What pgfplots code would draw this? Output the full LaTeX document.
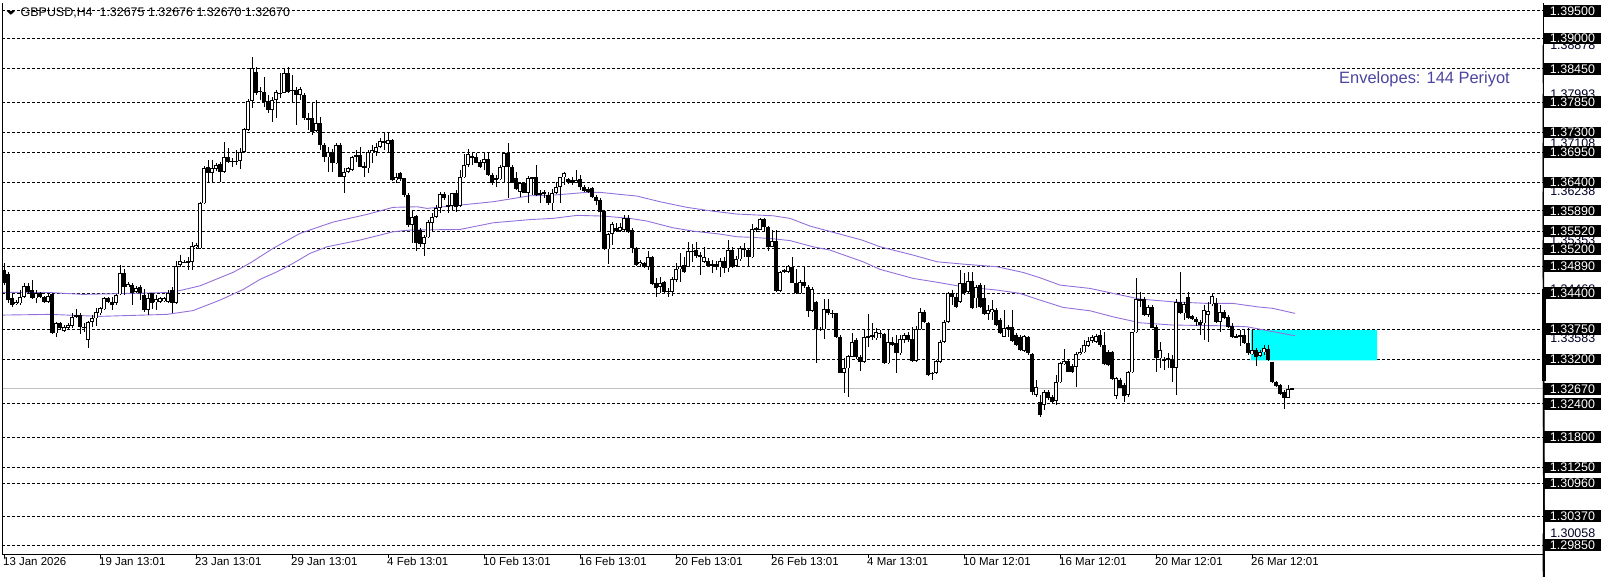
\documentclass[border=0pt]{standalone}
\usepackage{pgfplots}
\pgfplotsset{compat=1.18}
\usepackage{pgfplotstable}
\usepackage{fontspec}
\setmainfont{Liberation Sans}
\definecolor{envcol}{HTML}{9370DB}
\definecolor{envtext}{HTML}{4B449E}
\definecolor{curgray}{HTML}{C0C0C0}
\definecolor{aqua}{HTML}{00FFFF}

\pgfplotstableread{
i o h l c
0 1.34817 1.34937 1.34546 1.34576
1 1.34744 1.34787 1.34215 1.34275
2 1.34305 1.34395 1.34155 1.34185
3 1.34203 1.34275 1.34179 1.34245
4 1.34215 1.34455 1.34185 1.34335
5 1.34335 1.34588 1.34305 1.34528
6 1.34528 1.34576 1.34395 1.34425
7 1.34455 1.34636 1.34287 1.34305
8 1.34305 1.34455 1.34227 1.34407
9 1.34407 1.34425 1.34305 1.34323
10 1.34323 1.34347 1.34227 1.34245
11 1.34245 1.34407 1.34215 1.34353
12 1.34383 1.34407 1.33661 1.33673
13 1.33673 1.33884 1.33601 1.33854
14 1.33854 1.33884 1.33733 1.33763
15 1.33721 1.33824 1.33703 1.33794
16 1.33776 1.33854 1.33757 1.33824
17 1.33805 1.34034 1.33763 1.33974
18 1.34004 1.34106 1.33944 1.33974
19 1.34004 1.34034 1.33661 1.33794
20 1.33776 1.33854 1.33703 1.33794
21 1.33553 1.33902 1.33402 1.33884
22 1.33884 1.34004 1.33794 1.33944
23 1.33944 1.34125 1.33805 1.34064
24 1.34034 1.34155 1.34004 1.34125
25 1.34106 1.34323 1.34094 1.34305
26 1.34305 1.34323 1.34227 1.34245
27 1.34245 1.34335 1.34094 1.34185
28 1.34215 1.34383 1.34185 1.34365
29 1.34377 1.34907 1.34359 1.34757
30 1.34757 1.34829 1.34365 1.34516
31 1.34516 1.34606 1.34504 1.34558
32 1.34546 1.34576 1.34185 1.34407
33 1.34425 1.34528 1.34395 1.34498
34 1.34516 1.34546 1.34275 1.34395
35 1.34365 1.34467 1.34064 1.34094
36 1.34094 1.34395 1.34004 1.34305
37 1.34395 1.34407 1.34106 1.34227
38 1.34245 1.34365 1.34094 1.34287
39 1.34245 1.34335 1.34215 1.34305
40 1.34263 1.34335 1.34245 1.34305
41 1.34245 1.34455 1.34215 1.34395
42 1.34455 1.34516 1.34034 1.34215
43 1.34215 1.34985 1.34203 1.34889
44 1.34907 1.35088 1.34877 1.34985
45 1.34949 1.34997 1.34937 1.34967
46 1.34979 1.35058 1.34817 1.34955
47 1.34967 1.35329 1.34817 1.35250
48 1.35226 1.35310 1.35190 1.35268
49 1.35208 1.36050 1.35190 1.36021
50 1.36021 1.36700 1.36009 1.36660
51 1.36671 1.36803 1.36412 1.36575
52 1.36575 1.36803 1.36400 1.36653
53 1.36641 1.36755 1.36611 1.36713
54 1.36731 1.36773 1.36412 1.36593
55 1.36593 1.37135 1.36575 1.36851
56 1.36851 1.37014 1.36743 1.36773
57 1.36785 1.36833 1.36683 1.36773
58 1.36779 1.36984 1.36713 1.36791
59 1.36785 1.37014 1.36635 1.36954
60 1.36954 1.37375 1.36936 1.37357
61 1.37345 1.37899 1.37333 1.37875
62 1.37875 1.38658 1.37737 1.38459
63 1.38399 1.38477 1.37977 1.38019
64 1.38056 1.38128 1.37887 1.38038
65 1.38038 1.38308 1.37767 1.37857
66 1.37875 1.37979 1.37646 1.37706
67 1.37706 1.37947 1.37496 1.37887
68 1.37887 1.38068 1.37556 1.38038
69 1.38007 1.38369 1.37917 1.38019
70 1.38019 1.38459 1.38007 1.38369
71 1.38369 1.38477 1.38007 1.38038
72 1.38068 1.38339 1.37827 1.38056
73 1.38068 1.38128 1.37436 1.37977
74 1.37977 1.38128 1.37887 1.38080
75 1.37977 1.38007 1.37526 1.37556
76 1.37556 1.37646 1.37345 1.37544
77 1.37556 1.37827 1.37255 1.37315
78 1.37327 1.37887 1.37315 1.37466
79 1.37478 1.37586 1.36984 1.37074
80 1.37074 1.37104 1.36773 1.36852
81 1.36852 1.37044 1.36593 1.36954
82 1.36954 1.36996 1.36593 1.36743
83 1.36743 1.37116 1.36731 1.37074
84 1.37074 1.37104 1.36490 1.36502
85 1.36502 1.36653 1.36213 1.36593
86 1.36593 1.36683 1.36563 1.36653
87 1.36623 1.36876 1.36611 1.36852
88 1.36864 1.36984 1.36773 1.36894
89 1.36894 1.37044 1.36671 1.36683
90 1.36695 1.36773 1.36490 1.36653
91 1.36653 1.36984 1.36563 1.36954
92 1.36924 1.37074 1.36743 1.36984
93 1.36954 1.37116 1.36876 1.37044
94 1.37044 1.37195 1.37014 1.37147
95 1.37153 1.37315 1.36984 1.37116
96 1.37092 1.37315 1.36936 1.37165
97 1.37165 1.37177 1.36430 1.36442
98 1.36442 1.36575 1.36390 1.36490
99 1.36563 1.36593 1.36430 1.36454
100 1.36472 1.36484 1.36141 1.36171
101 1.36171 1.36201 1.35600 1.35630
102 1.35630 1.35900 1.35298 1.35780
103 1.35798 1.35810 1.35166 1.35298
104 1.35539 1.35569 1.35226 1.35286
105 1.35286 1.35449 1.35070 1.35407
106 1.35407 1.35720 1.35389 1.35690
107 1.35672 1.35840 1.35509 1.35780
108 1.35780 1.35991 1.35750 1.35931
109 1.35931 1.36232 1.35852 1.36189
110 1.36189 1.36232 1.36081 1.36111
111 1.35991 1.36171 1.35852 1.35961
112 1.35973 1.36213 1.35900 1.36201
113 1.36201 1.36262 1.35870 1.35961
114 1.35973 1.36623 1.35961 1.36502
115 1.36490 1.36912 1.36472 1.36713
116 1.36713 1.36996 1.36683 1.36912
117 1.36852 1.36954 1.36713 1.36876
118 1.36852 1.36936 1.36743 1.36755
119 1.36773 1.36803 1.36653 1.36683
120 1.36755 1.36954 1.36623 1.36815
121 1.36815 1.36954 1.36514 1.36533
122 1.36533 1.36563 1.36352 1.36390
123 1.36472 1.36533 1.36310 1.36454
124 1.36454 1.36713 1.36442 1.36683
125 1.36683 1.36954 1.36412 1.36924
126 1.36924 1.37104 1.36111 1.36683
127 1.36683 1.36713 1.36382 1.36394
128 1.36473 1.36593 1.36262 1.36274
129 1.36232 1.36412 1.36141 1.36394
130 1.36394 1.36412 1.36201 1.36213
131 1.36213 1.36514 1.36033 1.36472
132 1.36490 1.36502 1.36171 1.36466
133 1.36502 1.36713 1.36153 1.36171
134 1.36201 1.36261 1.36033 1.36189
135 1.36201 1.36261 1.36111 1.36231
136 1.36171 1.36231 1.35991 1.36021
137 1.36021 1.36273 1.35900 1.36213
138 1.36213 1.36412 1.36189 1.36310
139 1.36310 1.36502 1.36033 1.36490
140 1.36490 1.36593 1.36352 1.36562
141 1.36466 1.36472 1.36370 1.36412
142 1.36442 1.36502 1.36352 1.36382
143 1.36394 1.36623 1.36382 1.36442
144 1.36454 1.36532 1.36261 1.36322
145 1.36322 1.36352 1.36231 1.36250
146 1.36273 1.36322 1.36201 1.36231
147 1.36292 1.36322 1.36111 1.36141
148 1.36141 1.36171 1.35991 1.36069
149 1.36081 1.36111 1.35509 1.35870
150 1.35888 1.35900 1.35178 1.35190
151 1.35190 1.35479 1.34925 1.35467
152 1.35467 1.35690 1.35268 1.35647
153 1.35569 1.35660 1.35509 1.35527
154 1.35527 1.35660 1.35509 1.35587
155 1.35539 1.35810 1.35509 1.35750
156 1.35750 1.35810 1.35479 1.35509
157 1.35539 1.35569 1.35118 1.35208
158 1.35208 1.35238 1.34889 1.34907
159 1.34925 1.34997 1.34877 1.34967
160 1.34949 1.34967 1.34847 1.34865
161 1.34865 1.35166 1.34817 1.35045
162 1.35045 1.35069 1.34546 1.34564
163 1.34576 1.34666 1.34335 1.34486
164 1.34504 1.34696 1.34395 1.34588
165 1.34606 1.34624 1.34395 1.34425
166 1.34443 1.34486 1.34335 1.34419
167 1.34425 1.34684 1.34347 1.34648
168 1.34636 1.34949 1.34606 1.34829
169 1.34829 1.35130 1.34606 1.34889
170 1.34907 1.35058 1.34757 1.34787
171 1.34877 1.35328 1.34865 1.35166
172 1.35166 1.35286 1.34967 1.35142
173 1.35178 1.35328 1.35027 1.35069
174 1.35088 1.35148 1.34726 1.35045
175 1.34967 1.35238 1.34949 1.35045
176 1.34985 1.35027 1.34865 1.34889
177 1.34925 1.34997 1.34757 1.34889
178 1.34925 1.34985 1.34817 1.34865
179 1.34865 1.35027 1.34696 1.34985
180 1.34985 1.35045 1.34757 1.34847
181 1.34847 1.35358 1.34787 1.35178
182 1.35178 1.35238 1.34847 1.34865
183 1.34889 1.35069 1.34877 1.35009
184 1.35009 1.35250 1.34985 1.35208
185 1.35178 1.35298 1.35058 1.35208
186 1.35178 1.35208 1.34877 1.35045
187 1.35045 1.35647 1.35027 1.35550
188 1.35569 1.35599 1.35509 1.35550
189 1.35550 1.35750 1.35539 1.35732
190 1.35732 1.35750 1.35509 1.35587
191 1.35587 1.35611 1.35166 1.35238
192 1.35238 1.35539 1.35226 1.35346
193 1.35346 1.35539 1.34425 1.34443
194 1.34443 1.34805 1.34425 1.34787
195 1.34787 1.34829 1.34757 1.34817
196 1.34787 1.34907 1.34757 1.34889
197 1.34876 1.35057 1.34575 1.34587
198 1.34587 1.34846 1.34383 1.34395
199 1.34395 1.34636 1.34383 1.34606
200 1.34606 1.34888 1.34500 1.34520
201 1.34520 1.34545 1.33973 1.34082
202 1.34082 1.34515 1.34064 1.34467
203 1.34244 1.34262 1.33131 1.33745
204 1.33745 1.33793 1.33721 1.33757
205 1.33745 1.34286 1.33576 1.34106
206 1.34106 1.34286 1.34004 1.34034
207 1.34046 1.34094 1.33943 1.34034
208 1.34034 1.34046 1.33582 1.33600
209 1.33612 1.33642 1.32950 1.32962
210 1.32962 1.33221 1.32589 1.33040
211 1.33040 1.33281 1.32517 1.33263
212 1.33251 1.33684 1.33239 1.33522
213 1.33552 1.33582 1.33203 1.33239
214 1.33239 1.33281 1.32998 1.33161
215 1.33161 1.33745 1.33143 1.33612
216 1.33600 1.34022 1.33432 1.33624
217 1.33612 1.33853 1.33552 1.33642
218 1.33582 1.33763 1.33552 1.33703
219 1.33660 1.33733 1.33582 1.33684
220 1.33660 1.33672 1.33119 1.33131
221 1.33131 1.33733 1.33119 1.33522
222 1.33522 1.33600 1.33444 1.33462
223 1.33504 1.33642 1.32950 1.33311
224 1.33311 1.33642 1.33281 1.33564
225 1.33552 1.33684 1.33492 1.33642
226 1.33642 1.33703 1.33522 1.33552
227 1.33564 1.33781 1.33161 1.33179
228 1.33179 1.33805 1.33161 1.33745
229 1.33745 1.34124 1.33733 1.34064
230 1.34064 1.34094 1.33853 1.33883
231 1.33853 1.33883 1.32902 1.32920
232 1.32962 1.32980 1.32830 1.32950
233 1.32962 1.33191 1.32938 1.33179
234 1.33161 1.33552 1.33143 1.33522
235 1.33522 1.33913 1.33492 1.33883
236 1.33883 1.34425 1.33865 1.34395
237 1.34395 1.34455 1.34184 1.34335
238 1.34335 1.34395 1.34124 1.34154
239 1.34244 1.34816 1.34214 1.34575
240 1.34575 1.34756 1.34365 1.34395
241 1.34425 1.34786 1.34395 1.34624
242 1.34624 1.34786 1.34106 1.34124
243 1.34305 1.34545 1.34124 1.34515
244 1.34545 1.34575 1.34124 1.34154
245 1.34305 1.34545 1.34004 1.34022
246 1.34022 1.34184 1.33913 1.34094
247 1.34064 1.34274 1.33913 1.34106
248 1.34094 1.34124 1.33805 1.33823
249 1.33913 1.33943 1.33660 1.33672
250 1.33612 1.34094 1.33600 1.33763
251 1.33781 1.33823 1.33612 1.33763
252 1.33781 1.34094 1.33522 1.33540
253 1.33642 1.33672 1.33444 1.33462
254 1.33612 1.33642 1.33359 1.33371
255 1.33359 1.33642 1.33341 1.33624
256 1.33612 1.33624 1.33281 1.33311
257 1.33299 1.33311 1.32559 1.32619
258 1.32559 1.32829 1.32529 1.32709
259 1.32438 1.32559 1.32167 1.32197
260 1.32378 1.32649 1.32288 1.32619
261 1.32619 1.32649 1.32468 1.32498
262 1.32529 1.32559 1.32408 1.32438
263 1.32450 1.32920 1.32378 1.32799
264 1.32787 1.33161 1.32769 1.33131
265 1.33113 1.33389 1.33101 1.33173
266 1.33173 1.33191 1.32968 1.32980
267 1.33088 1.33113 1.32950 1.32968
268 1.33070 1.33341 1.32709 1.33293
269 1.33293 1.33401 1.33281 1.33341
270 1.33329 1.33552 1.33311 1.33462
271 1.33450 1.33612 1.33432 1.33534
272 1.33534 1.33642 1.33492 1.33612
273 1.33510 1.33654 1.33492 1.33630
274 1.33642 1.33733 1.33432 1.33462
275 1.33462 1.33690 1.33101 1.33113
276 1.33341 1.33371 1.33089 1.33101
277 1.33329 1.33353 1.32830 1.32848
278 1.32547 1.32890 1.32486 1.32860
279 1.32830 1.32860 1.32679 1.32691
280 1.32740 1.32770 1.32438 1.32547
281 1.32559 1.32992 1.32529 1.32968
282 1.32968 1.33702 1.32950 1.33690
283 1.33690 1.34666 1.33672 1.34292
284 1.34292 1.34425 1.34154 1.34274
285 1.34292 1.34335 1.33991 1.34003
286 1.34003 1.34184 1.33973 1.34154
287 1.34154 1.34184 1.33763 1.33775
288 1.33793 1.33823 1.32968 1.33221
289 1.33221 1.33510 1.33040 1.33371
290 1.33209 1.33251 1.33010 1.33191
291 1.33191 1.33311 1.33040 1.33221
292 1.33209 1.33281 1.32787 1.33052
293 1.33052 1.34304 1.32559 1.34244
294 1.34244 1.34786 1.34015 1.34033
295 1.34033 1.34244 1.33913 1.34196
296 1.34335 1.34425 1.33931 1.33943
297 1.33991 1.34003 1.33913 1.33931
298 1.33931 1.33973 1.33811 1.33883
299 1.33883 1.33913 1.33642 1.33823
300 1.33853 1.34184 1.33552 1.34094
301 1.34003 1.34244 1.33510 1.34076
302 1.34196 1.34395 1.34172 1.34353
303 1.34214 1.34316 1.33853 1.33883
304 1.33883 1.34184 1.33702 1.34052
305 1.34052 1.34094 1.33931 1.33955
306 1.33973 1.34003 1.33775 1.33793
307 1.33811 1.33853 1.33582 1.33612
308 1.33624 1.33654 1.33582 1.33606
309 1.33612 1.33733 1.33450 1.33642
310 1.33642 1.33751 1.33474 1.33492
311 1.33492 1.33763 1.33281 1.33311
312 1.33293 1.33733 1.33281 1.33371
313 1.33371 1.33401 1.33088 1.33251
314 1.33269 1.33371 1.33251 1.33329
315 1.33329 1.33462 1.33281 1.33401
316 1.33389 1.33462 1.33173 1.33191
317 1.33149 1.33161 1.32769 1.32787
318 1.32799 1.32811 1.32709 1.32727
319 1.32739 1.32751 1.32559 1.32571
320 1.32607 1.32649 1.32306 1.32510
321 1.32510 1.32739 1.32498 1.32667
322 1.32675 1.32676 1.32670 1.32670
}\candles

\tikzset{
  pbox/.style={fill=black, text=white, anchor=west, inner xsep=0pt, inner ysep=0pt,
    minimum width=56.5bp, minimum height=11.5bp, text height=8.8bp, text depth=0bp,
    font=\fontsize{12.5}{12.5}\selectfont, xshift=1bp},
  plab/.style={anchor=west, inner sep=0pt, text height=8.8bp, text depth=0bp,
    font=\fontsize{12.5}{12.5}\selectfont, xshift=7bp, text=black!85!blue}
}

\begin{document}
\begin{tikzpicture}[x=1bp,y=1bp]
\begin{axis}[
  scale only axis,
  width=1541bp, height=551bp,
  xmin=-0.5, xmax=384.75, ymin=1.29686, ymax=1.39639,
  clip=false,
  axis line style={draw=none},
  ytick={1.395,1.39,1.3845,1.3785,1.373,1.3695,1.364,1.3589,1.3552,1.352,1.3489,1.344,1.3375,1.332,1.324,1.318,1.3125,1.3096,1.3037,1.2985},
  yticklabels={}, ymajorgrids,
  y tick style={draw=none},
  grid style={black, line width=0.8bp, dash pattern=on 3bp off 2bp},
  xtick={0,24,...,312},
  xticklabels={13 Jan 2026,19 Jan 13:01,23 Jan 13:01,29 Jan 13:01,4 Feb 13:01,10 Feb 13:01,16 Feb 13:01,20 Feb 13:01,26 Feb 13:01,4 Mar 13:01,10 Mar 12:01,16 Mar 12:01,20 Mar 12:01,26 Mar 12:01},
  xtick pos=bottom, tick align=outside, major tick length=4bp,
  x tick style={black, line width=0.8bp},
  xticklabel style={anchor=north west, inner sep=0pt, xshift=-1bp, yshift=0.5bp, text height=8bp, text depth=0bp, font=\fontsize{11.5}{12}\selectfont},
]
\coordinate (PSW) at (rel axis cs:0,0);
% cyan zone
\addplot[fill=aqua, draw=none] coordinates {(311.8,1.33185) (343.25,1.33185) (343.25,1.33733) (311.8,1.33733) (311.8,1.33185)};
% current price line
\addplot[curgray, line width=0.8bp] coordinates {(-0.5,1.3267) (384.75,1.3267)};
% envelopes
\addplot[envcol, line width=0.9bp] coordinates {
(-0.5,1.34413) (11.5,1.34410) (19.75,1.34377) (40.75,1.34410) (44,1.34446) (49,1.34532) (57.25,1.34774) (61.5,1.34942) (67.25,1.35208) (74,1.35479) (82.25,1.35683) (90.75,1.35822) (97.25,1.35949) (103.25,1.35960) (105.75,1.35930) (114,1.35990) (122.25,1.36050) (131.5,1.36158) (137.25,1.36170) (145.75,1.36220) (149,1.36220) (154,1.36183) (158.25,1.36153) (164,1.36050) (170.75,1.35949) (176.5,1.35887) (183.25,1.35828) (192.25,1.35797) (196.5,1.35750) (201.5,1.35611) (214.5,1.35358) (219,1.35237) (227.25,1.35087) (233.25,1.34966) (239.75,1.34924) (248.25,1.34876) (254.75,1.34774) (259,1.34677) (264,1.34545) (271.5,1.34485) (277.25,1.34395) (284,1.34292) (292.25,1.34243) (300.75,1.34214) (307.25,1.34214) (313.25,1.34153) (317.25,1.34124) (322.75,1.34034)};
\addplot[envcol, line width=0.9bp] coordinates {
(-0.5,1.34003) (11.5,1.34016) (24,1.33980) (40.75,1.34016) (47.25,1.34084) (54,1.34274) (59.75,1.34464) (64,1.34648) (68.25,1.34785) (72.25,1.34937) (76.5,1.35118) (80.75,1.35237) (89,1.35358) (97.25,1.35508) (101.5,1.35539) (114,1.35550) (122.25,1.35670) (131.5,1.35728) (137.25,1.35750) (143.25,1.35804) (149.75,1.35792) (156.5,1.35750) (160.75,1.35701) (167.25,1.35580) (172.25,1.35520) (179,1.35466) (183.25,1.35418) (187.25,1.35407) (192.25,1.35381) (196.5,1.35349) (202.25,1.35237) (206.5,1.35177) (214.75,1.34966) (219,1.34829) (227.25,1.34666) (234,1.34587) (239.75,1.34514) (248.25,1.34455) (254,1.34395) (259,1.34274) (264.75,1.34142) (271.5,1.34081) (277.25,1.33972) (284,1.33864) (292.25,1.33823) (304.75,1.33810) (310.75,1.33792) (316.5,1.33714) (322.75,1.33629)};
% wicks
\addplot[draw=none, error bars/.cd, y dir=both, y explicit, error mark=none,
  error bar style={draw=black, line width=0.9bp}]
  table[x=i, y expr={(\thisrow{h}+\thisrow{l})/2}, y error expr={(\thisrow{h}-\thisrow{l})/2}] {\candles};
% bodies
\addplot[draw=none, error bars/.cd, y dir=both, y explicit, error mark=none,
  error bar style={draw=black, line width=3.2bp}]
  table[x=i, y expr={(\thisrow{o}+\thisrow{c})/2}, y error expr={max(abs(\thisrow{c}-\thisrow{o})/2,0.00009)}] {\candles};
% hollow bull bodies
\addplot[draw=none, error bars/.cd, y dir=both, y explicit, error mark=none,
  error bar style={draw=white, line width=1.4bp}]
  table[x=i, y expr={(\thisrow{o}+\thisrow{c})/2}, y error expr={max((\thisrow{c}-\thisrow{o})/2-0.00016,0)}] {\candles};
% frame
\draw[black, line width=0.9bp] (rel axis cs:0,1) -- (rel axis cs:0,0) -- (rel axis cs:1,0) -- (rel axis cs:1,1);
% thick marker on price scale
\fill[black] ([xshift=-1.5bp]axis cs:384.75,1.34473) rectangle ([xshift=2.5bp]axis cs:384.75,1.32811);
% small scale labels
\draw[line width=0.8bp] (axis cs:384.75,1.38878) -- ++(4,0);
\node[plab] at (axis cs:384.75,1.38878) {1.38878};
\draw[line width=0.8bp] (axis cs:384.75,1.37993) -- ++(4,0);
\node[plab] at (axis cs:384.75,1.37993) {1.37993};
\draw[line width=0.8bp] (axis cs:384.75,1.37108) -- ++(4,0);
\node[plab] at (axis cs:384.75,1.37108) {1.37108};
\draw[line width=0.8bp] (axis cs:384.75,1.36238) -- ++(4,0);
\node[plab] at (axis cs:384.75,1.36238) {1.36238};
\draw[line width=0.8bp] (axis cs:384.75,1.35353) -- ++(4,0);
\node[plab] at (axis cs:384.75,1.35353) {1.35353};
\draw[line width=0.8bp] (axis cs:384.75,1.34468) -- ++(4,0);
\node[plab] at (axis cs:384.75,1.34468) {1.34468};
\draw[line width=0.8bp] (axis cs:384.75,1.33583) -- ++(4,0);
\node[plab] at (axis cs:384.75,1.33583) {1.33583};
\draw[line width=0.8bp] (axis cs:384.75,1.30058) -- ++(4,0);
\node[plab] at (axis cs:384.75,1.30058) {1.30058};
% boxed level labels
\node[pbox] at (axis cs:384.75,1.395) {1.39500};
\node[pbox] at (axis cs:384.75,1.390) {1.39000};
\node[pbox] at (axis cs:384.75,1.3845) {1.38450};
\node[pbox] at (axis cs:384.75,1.3785) {1.37850};
\node[pbox] at (axis cs:384.75,1.373) {1.37300};
\node[pbox] at (axis cs:384.75,1.3695) {1.36950};
\node[pbox] at (axis cs:384.75,1.364) {1.36400};
\node[pbox] at (axis cs:384.75,1.3589) {1.35890};
\node[pbox] at (axis cs:384.75,1.3552) {1.35520};
\node[pbox] at (axis cs:384.75,1.352) {1.35200};
\node[pbox] at (axis cs:384.75,1.3489) {1.34890};
\node[pbox] at (axis cs:384.75,1.344) {1.34400};
\node[pbox] at (axis cs:384.75,1.3375) {1.33750};
\node[pbox] at (axis cs:384.75,1.332) {1.33200};
\node[pbox] at (axis cs:384.75,1.3267) {1.32670};
\node[pbox] at (axis cs:384.75,1.324) {1.32400};
\node[pbox] at (axis cs:384.75,1.318) {1.31800};
\node[pbox] at (axis cs:384.75,1.3125) {1.31250};
\node[pbox] at (axis cs:384.75,1.3096) {1.30960};
\node[pbox] at (axis cs:384.75,1.3037) {1.30370};
\node[pbox] at (axis cs:384.75,1.2985) {1.29850};
\end{axis}
\begin{scope}[shift={(PSW)}, xshift=-2bp, yshift=-23bp]
% title
\fill[black] (6.7,566) -- (15,566) -- (10.85,562.2) -- cycle;
\node[anchor=west, inner sep=0pt, font=\fontsize{12.5}{13}\selectfont] at (20.5,564.3) {GBPUSD,H4\ \ 1.32675 1.32676 1.32670 1.32670};
\node[anchor=west, inner sep=0pt, text=envtext, font=\fontsize{16.5}{18}\selectfont] at (1339,497.7) {Envelopes: 144 Periyot};
\end{scope}
\pgfresetboundingbox
\path[use as bounding box] ([shift={(-2,-23)}]PSW) rectangle ([shift={(1604,554)}]PSW);
\end{tikzpicture}
\end{document}
